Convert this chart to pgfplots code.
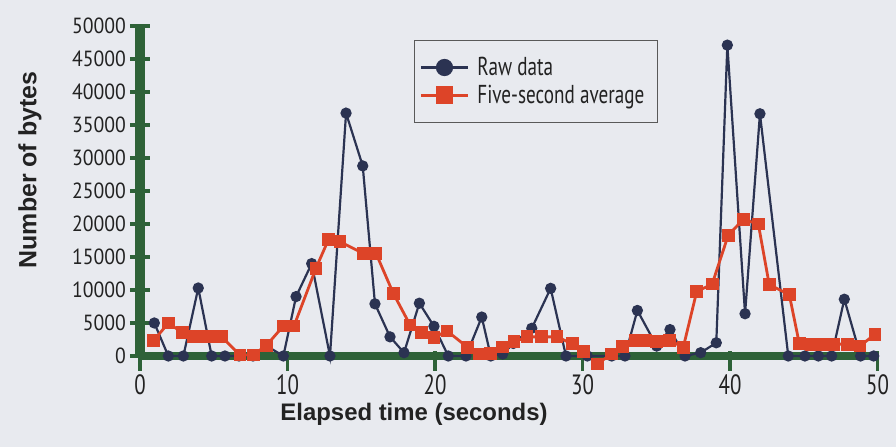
\documentclass[border=0pt]{standalone}
\usepackage{pgfplots}
\pgfplotsset{compat=1.18}
\usepackage{fontspec}
\setmainfont{Liberation Sans}
\newfontfamily\ytickfont[FakeStretch=0.9]{PT Sans}
\newfontfamily\xtickfont[FakeStretch=0.75]{PT Sans}
\newfontfamily\legfont[FakeStretch=0.74]{PT Sans}
\definecolor{bg}{HTML}{E8EAEF}
\definecolor{axgreen}{HTML}{2E6238}
\definecolor{navy}{HTML}{2B3352}
\definecolor{avgred}{HTML}{DD4428}
\definecolor{tickgray}{HTML}{222222}

\begin{document}
\begin{tikzpicture}[x=1bp,y=1bp]
\fill[bg] (-140,-91) rectangle (756,356);
\path[use as bounding box] (-140,-91) rectangle (756,356);
\begin{axis}[
  at={(0,0)}, anchor=south west,
  scale only axis, width=737.5bp, height=330bp,
  xmin=0, xmax=50, ymin=0, ymax=50000,
  clip=false,
  axis x line*=bottom, axis y line*=left,
  x axis line style={draw=axgreen, line width=8bp},
  y axis line style={draw=axgreen, line width=10bp},
  xtick={0,10,...,50}, ytick={0,5000,...,50000},
  tick align=center, major tick length=20bp,
  tick style={draw=axgreen, line width=3.5bp},
  x tick style={yshift=-5bp},
  scaled y ticks=false,
  /pgf/number format/assume math mode=true,
  /pgf/number format/set thousands separator={},
  yticklabel style={font=\ytickfont\fontsize{22}{22}\selectfont, text=tickgray, anchor=east, inner sep=0pt, xshift=-4bp},
  xticklabel style={font=\xtickfont\fontsize{28}{28}\selectfont, text=tickgray, anchor=north, inner sep=0pt, yshift=-8bp},
  legend style={at={(0.3715,0.9576)}, anchor=north west, draw=black!65, line width=1.2bp, fill=none,
     font=\legfont\fontsize{26}{26}\selectfont, text=tickgray, inner xsep=5bp, inner ysep=15bp,
     row sep=4bp, nodes={inner xsep=8bp, inner ysep=2bp}},
  legend cell align=left,
  legend image code/.code={\draw[mark repeat=2,mark phase=2,#1] plot coordinates {(0bp,0bp) (23.5bp,0bp) (47bp,0bp)};},
  legend image post style={mark size=7.5bp},
]
\addplot[color=navy, line width=2.2bp, mark=*, mark size=4.5bp, mark options={solid}] coordinates {
(0.97,5000) (1.92,0) (2.94,0) (3.95,10300) (4.86,0) (5.76,0) (6.71,0) (7.66,0) (8.6,1500)
(9.72,0) (10.58,9000) (11.64,14000) (12.88,0) (13.97,36800) (15.10,28800) (15.93,7900)
(16.95,2900) (17.90,500) (18.94,8000) (19.93,4500) (20.90,0) (22.10,0) (23.17,5900)
(23.78,0) (24.59,300) (25.31,1900) (26.56,4200) (27.84,10250) (28.88,0) (30.33,0)
(31.98,0) (32.88,0) (33.72,6900) (35.03,1500) (35.93,4000) (36.95,0) (38.01,500)
(39.07,2000) (39.82,47100) (41.02,6400) (42.03,36700) (43.95,0) (45.08,0) (45.99,0)
(46.89,0) (47.75,8600) (48.85,0) (49.74,0)
};
\addlegendentry{Raw data}
\addplot[color=avgred, line width=2.8bp, mark=square*, mark size=5bp, mark options={solid}] coordinates {
(0.92,2300) (1.92,5000) (2.89,3500) (3.61,2900) (4.29,2900) (4.93,2900) (5.54,2900)
(6.78,150) (7.68,150) (8.59,1650) (9.72,4550) (10.44,4550) (11.93,13300) (12.77,17600)
(13.56,17300) (15.14,15550) (16.0,15550) (17.17,9500) (18.31,4700) (19.10,3500)
(19.93,2800) (20.81,3800) (22.22,1300) (22.98,300) (23.78,400) (24.59,1350) (25.36,2150)
(26.24,2900) (27.23,2900) (28.27,2900) (29.30,1850) (30.05,700) (31.0,-1200) (31.98,300)
(32.73,1400) (33.56,2400) (34.31,2400) (35.03,2150) (35.88,2400) (36.83,1300)
(37.74,9750) (38.79,10900) (39.88,18300) (40.90,20700) (41.92,20000) (42.66,10800)
(44.02,9300) (44.70,1850) (45.54,1800) (46.33,1800) (47.05,1800) (47.95,1800)
(48.81,1500) (49.83,3300)
};
\addlegendentry{Five-second average}
\end{axis}
\node[font=\bfseries\fontsize{24}{24}\selectfont, text=tickgray] at (274,-58) {Elapsed time (seconds)};
\node[font=\bfseries\fontsize{25}{25}\selectfont, text=tickgray, rotate=90] at (-110,186) {Number of bytes};
\end{tikzpicture}
\end{document}
